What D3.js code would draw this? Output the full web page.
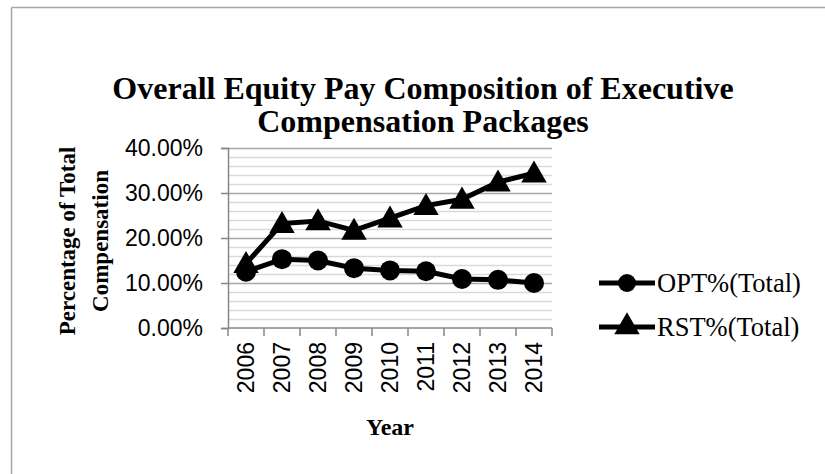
<!DOCTYPE html>
<html>
<head>
<meta charset="utf-8">
<script src="https://d3js.org/d3.v7.min.js"></script>
<style>
  body { margin: 0; background: #fff; }
  svg { display: block; }
</style>
</head>
<body>
<svg id="chart" width="825" height="474"></svg>
<script>
// chart data
const years = ["2006", "2007", "2008", "2009", "2010", "2011", "2012", "2013", "2014"];
const optValues = [12.5, 15.3, 15.0, 13.3, 12.8, 12.6, 10.9, 10.7, 10.0];
const rstValues = [14.3, 23.2, 23.8, 21.7, 24.4, 27.2, 28.6, 32.4, 34.4];
const yTicks = [0, 10, 20, 30, 40];
const seriesNames = ["OPT%(Total)", "RST%(Total)"];

const width = 825;
const height = 474;
const margin = { top: 148, right: 273, bottom: 146, left: 228 };
const innerWidth = width - margin.left - margin.right;
const innerHeight = height - margin.top - margin.bottom;

const svg = d3.select("#chart");
const serif = "'Liberation Serif', 'Times New Roman', serif";
const sans = "'Liberation Sans', Arial, sans-serif";

// chart area border: only the left and top edges show in the picture
svg.append("line")
    .attr("x1", 11.5).attr("x2", 11.5)
    .attr("y1", 7.5).attr("y2", height)
    .attr("stroke", "#a6a6a6")
    .attr("stroke-width", 1.5);
svg.append("line")
    .attr("x1", 11.5).attr("x2", width)
    .attr("y1", 7.5).attr("y2", 7.5)
    .attr("stroke", "#a6a6a6")
    .attr("stroke-width", 1.5);

// title
const title = svg.append("text")
    .attr("x", 423)
    .attr("y", 99)
    .attr("text-anchor", "middle")
    .style("font-family", serif)
    .style("font-weight", "bold")
    .style("font-size", "32px");
title.append("tspan").attr("x", 423).text("Overall Equity Pay Composition of Executive");
title.append("tspan").attr("x", 423).attr("dy", 33).text("Compensation Packages");

const xScale = d3.scaleBand()
    .domain(years)
    .range([0, innerWidth])
    .padding(0);

const yScale = d3.scaleLinear()
    .domain([0, 40])
    .range([innerHeight, 0]);

const g = svg.append("g")
    .attr("transform", `translate(${margin.left}, ${margin.top})`);

// minor gridlines every 2%
g.append("g")
    .selectAll("line")
    .data(d3.range(2, 40, 2).filter(v => v % 10 !== 0))
    .join("line")
    .attr("x1", 0)
    .attr("x2", innerWidth)
    .attr("y1", d => Math.round(yScale(d)) + 0.5)
    .attr("y2", d => Math.round(yScale(d)) + 0.5)
    .attr("stroke", "#d9d9d9")
    .attr("stroke-width", 1.5);

// major gridlines
g.append("g")
    .selectAll("line")
    .data(yTicks.slice(1))
    .join("line")
    .attr("x1", 0)
    .attr("x2", innerWidth)
    .attr("y1", d => Math.round(yScale(d)) + 0.5)
    .attr("y2", d => Math.round(yScale(d)) + 0.5)
    .attr("stroke", "#a6a6a6")
    .attr("stroke-width", 1.5);

// y axis
const yAxis = g.append("g")
    .call(d3.axisLeft(yScale)
        .tickValues(yTicks)
        .tickSize(7)
        .tickPadding(18)
        .tickFormat(d => d.toFixed(2) + "%"));
yAxis.select(".domain").attr("stroke", "#868686").attr("stroke-width", 1.5);
yAxis.selectAll(".tick line").attr("stroke", "#868686").attr("stroke-width", 1.5);
yAxis.selectAll(".tick text")
    .attr("fill", "#000")
    .style("font-family", sans)
    .style("font-size", "23px");

// x axis line and ticks at band edges
g.append("line")
    .attr("x1", 0)
    .attr("x2", innerWidth)
    .attr("y1", innerHeight)
    .attr("y2", innerHeight)
    .attr("stroke", "#868686")
    .attr("stroke-width", 1.5);

g.append("g")
    .selectAll("line")
    .data(years.concat(["end"]))
    .join("line")
    .attr("x1", (d, i) => i * xScale.step())
    .attr("x2", (d, i) => i * xScale.step())
    .attr("y1", innerHeight)
    .attr("y2", innerHeight + 8)
    .attr("stroke", "#868686")
    .attr("stroke-width", 1.5);

g.append("g")
    .selectAll("text")
    .data(years)
    .join("text")
    .attr("transform", d => `translate(${xScale(d) + xScale.bandwidth() / 2 + 8}, ${innerHeight + 14}) rotate(-90)`)
    .attr("text-anchor", "end")
    .style("font-family", sans)
    .style("font-size", "23px")
    .text(d => d);

// axis titles
svg.append("text")
    .attr("x", 390)
    .attr("y", 435)
    .attr("text-anchor", "middle")
    .style("font-family", serif)
    .style("font-weight", "bold")
    .style("font-size", "24px")
    .text("Year");

const yTitle = svg.append("text")
    .attr("transform", "translate(75, 241) rotate(-90)")
    .attr("text-anchor", "middle")
    .style("font-family", serif)
    .style("font-weight", "bold")
    .style("font-size", "23px");
yTitle.append("tspan").attr("x", 0).attr("y", 0).text("Percentage of Total");
yTitle.append("tspan").attr("x", 0).attr("y", 33).text("Compensation");

// lines and markers
const cx = d => xScale(d) + xScale.bandwidth() / 2;
const optData = years.map((y, i) => [y, optValues[i]]);
const rstData = years.map((y, i) => [y, rstValues[i]]);

const line = d3.line()
    .x(d => cx(d[0]))
    .y(d => yScale(d[1]));

const triangle = d3.symbol().type(d3.symbolTriangle).size(280);

g.append("path")
    .datum(rstData)
    .attr("fill", "none")
    .attr("stroke", "#000")
    .attr("stroke-width", 5)
    .attr("d", line);

g.append("path")
    .datum(optData)
    .attr("fill", "none")
    .attr("stroke", "#000")
    .attr("stroke-width", 5)
    .attr("d", line);

g.append("g")
    .selectAll("path")
    .data(rstData)
    .join("path")
    .attr("d", triangle)
    .attr("transform", d => `translate(${cx(d[0])}, ${yScale(d[1]) + 2})`)
    .attr("fill", "#000");

g.append("g")
    .selectAll("circle")
    .data(optData)
    .join("circle")
    .attr("cx", d => cx(d[0]))
    .attr("cy", d => yScale(d[1]))
    .attr("r", 10)
    .attr("fill", "#000");

// legend
const legend = svg.append("g");
const legendY = [283, 327];
seriesNames.forEach((name, i) => {
    legend.append("line")
        .attr("x1", 599)
        .attr("x2", 655)
        .attr("y1", legendY[i])
        .attr("y2", legendY[i])
        .attr("stroke", "#000")
        .attr("stroke-width", 5);
    if (i === 0) {
        legend.append("circle")
            .attr("cx", 627)
            .attr("cy", legendY[i])
            .attr("r", 9)
            .attr("fill", "#000");
    } else {
        legend.append("path")
            .attr("d", triangle)
            .attr("transform", `translate(627, ${legendY[i]})`)
            .attr("fill", "#000");
    }
    legend.append("text")
        .attr("x", 657)
        .attr("y", legendY[i] + 9)
        .style("font-family", serif)
        .style("font-size", "26.5px")
        .text(name);
});
</script>
</body>
</html>
